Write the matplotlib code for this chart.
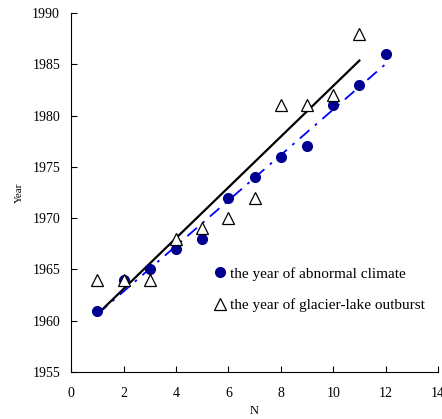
import numpy as np
import matplotlib.pyplot as plt

plt.rcParams['font.family'] = 'Liberation Serif'

# abnormal climate years (filled circles)
n_climate = [1, 2, 3, 4, 5, 6, 7, 8, 9, 10, 11, 12]
yr_climate = [1961, 1964, 1965, 1967, 1968, 1972, 1974, 1976, 1977, 1981, 1983, 1986]

# glacier-lake outburst years (open triangles)
n_lake = [1, 2, 3, 4, 5, 6, 7, 8, 9, 10, 11]
yr_lake = [1964, 1964, 1964, 1968, 1969, 1970, 1972, 1981, 1981, 1982, 1988]

fig = plt.figure(figsize=(4.42, 4.19), dpi=100)
ax = fig.add_axes([0.161, 0.112, 0.83, 0.857])

# linear trends
p_lake = np.polyfit(n_lake, yr_lake, 1)
p_clim = np.polyfit(n_climate, yr_climate, 1)
xl = np.array([n_lake[0], n_lake[-1]])
xc = np.array([n_climate[0], n_climate[-1]])
ax.plot(xc, np.polyval(p_clim, xc), color='#0000ff', lw=1.3, dashes=(7, 4, 1.5, 4), zorder=2)
ax.plot(xl, np.polyval(p_lake, xl), color='black', lw=1.6, zorder=3)

ax.plot(n_climate, yr_climate, 'o', color='#000090', ms=7, mec='#000090', ls='none',
        label='the year of abnormal climate', zorder=4)
ax.plot(n_lake, yr_lake, '^', mfc='white', mec='black', mew=0.9, ms=8, ls='none',
        label='the year of glacier-lake outburst', zorder=5)

ax.set_xlim(0, 14)
ax.set_ylim(1955, 1990)
ax.set_xticks(range(0, 15, 2))
ax.set_yticks(range(1955, 1991, 5))
ax.tick_params(direction='in', length=4, labelsize=10, width=0.8)
ax.tick_params(axis='x', pad=11)
ax.tick_params(axis='y', pad=8)
ax.spines['top'].set_visible(False)
ax.spines['right'].set_visible(False)
ax.set_xlabel('N', fontsize=9, labelpad=3)
ax.set_ylabel('Year', fontsize=8, labelpad=6)

ax.legend(loc='upper left', bbox_to_anchor=(0.365, 0.31), frameon=False, fontsize=11,
          handletextpad=0.0, labelspacing=1.15, handlelength=1.2, borderaxespad=0)

fig.savefig('out.png', dpi=100)
